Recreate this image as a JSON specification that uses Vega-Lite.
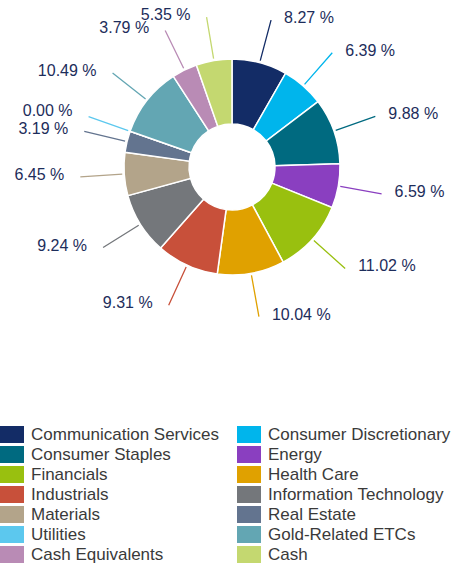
{
  "$schema": "https://vega.github.io/schema/vega-lite/v6.json",
  "width": 446,
  "height": 334,
  "autosize": {"type": "none"},
  "padding": {"left": 9, "top": 0, "right": 0, "bottom": 229},
  "background": "#ffffff",
  "data": {
    "values": [
      {"sector": "Communication Services", "value": 8.27, "label": "8.27 %"},
      {"sector": "Consumer Discretionary", "value": 6.39, "label": "6.39 %"},
      {"sector": "Consumer Staples", "value": 9.88, "label": "9.88 %"},
      {"sector": "Energy", "value": 6.59, "label": "6.59 %"},
      {"sector": "Financials", "value": 11.02, "label": "11.02 %"},
      {"sector": "Health Care", "value": 10.04, "label": "10.04 %"},
      {"sector": "Industrials", "value": 9.31, "label": "9.31 %"},
      {"sector": "Information Technology", "value": 9.24, "label": "9.24 %"},
      {"sector": "Materials", "value": 6.45, "label": "6.45 %"},
      {"sector": "Real Estate", "value": 3.19, "label": "3.19 %"},
      {"sector": "Utilities", "value": 0.0, "label": "0.00 %"},
      {"sector": "Gold-Related ETCs", "value": 10.49, "label": "10.49 %"},
      {"sector": "Cash Equivalents", "value": 3.79, "label": "3.79 %"},
      {"sector": "Cash", "value": 5.35, "label": "5.35 %"}
    ]
  },
  "transform": [
    {"window": [{"op": "row_number", "as": "idx"}]}
  ],
  "encoding": {
    "theta": {"field": "value", "type": "quantitative", "stack": true},
    "order": {"field": "idx", "type": "quantitative"}
  },
  "layer": [
    {
      "mark": {"type": "arc", "radius": 108, "radius2": 43, "stroke": "#ffffff", "strokeWidth": 1.5},
      "encoding": {
        "color": {
          "field": "sector",
          "type": "nominal",
          "scale": {
            "domain": ["Communication Services", "Consumer Discretionary", "Consumer Staples", "Energy", "Financials", "Health Care", "Industrials", "Information Technology", "Materials", "Real Estate", "Utilities", "Gold-Related ETCs", "Cash Equivalents", "Cash"],
            "range": ["#132c66", "#00b5ec", "#006a80", "#8a3fc0", "#99c00f", "#e0a100", "#c8503a", "#74777b", "#b3a48a", "#63748f", "#5cc8ee", "#63a6b3", "#b98bb5", "#c4d870"]
          },
          "legend": {
            "title": null,
            "orient": "none",
            "direction": "horizontal",
            "legendX": -5.5,
            "legendY": 426,
            "columns": 2,
            "symbolType": "M-1.41,-1L1.41,-1L1.41,1L-1.41,1Z",
            "symbolSize": 289,
            "symbolStrokeWidth": 0,
            "symbolOpacity": 1,
            "labelFont": "Liberation Sans",
            "labelFontSize": 17,
            "labelColor": "#3a3a3a",
            "labelOffset": 10.5,
            "labelLimit": 300,
            "columnPadding": 17,
            "rowPadding": 2
          }
        }
      }
    },
    {
      "mark": {"type": "arc", "radius": 152, "radius2": 110, "padAngle": 3, "filled": false, "strokeWidth": 1.3},
      "encoding": {
        "color": {"field": "sector", "type": "nominal"}
      }
    },
    {
      "mark": {"type": "text", "radius": 152, "align": "left", "baseline": "middle", "dx": 13, "dy": -2, "font": "Liberation Sans", "fontSize": 16, "color": "#1d2d5b"},
      "encoding": {
        "detail": {"field": "sector"},
        "text": {"condition": {"test": "datum.idx > 6", "value": ""}, "field": "label", "type": "nominal"}
      }
    },
    {
      "mark": {"type": "text", "radius": 152, "align": "right", "baseline": "middle", "dx": -16, "dy": -2, "font": "Liberation Sans", "fontSize": 16, "color": "#1d2d5b"},
      "encoding": {
        "detail": {"field": "sector"},
        "text": {"condition": {"test": "datum.idx <= 6 || datum.idx == 11", "value": ""}, "field": "label", "type": "nominal"}
      }
    },
    {
      "mark": {"type": "text", "radius": 152, "align": "right", "baseline": "middle", "dx": -16, "dy": -6, "font": "Liberation Sans", "fontSize": 16, "color": "#1d2d5b"},
      "encoding": {
        "detail": {"field": "sector"},
        "text": {"condition": {"test": "datum.idx != 11", "value": ""}, "field": "label", "type": "nominal"}
      }
    }
  ]
}
